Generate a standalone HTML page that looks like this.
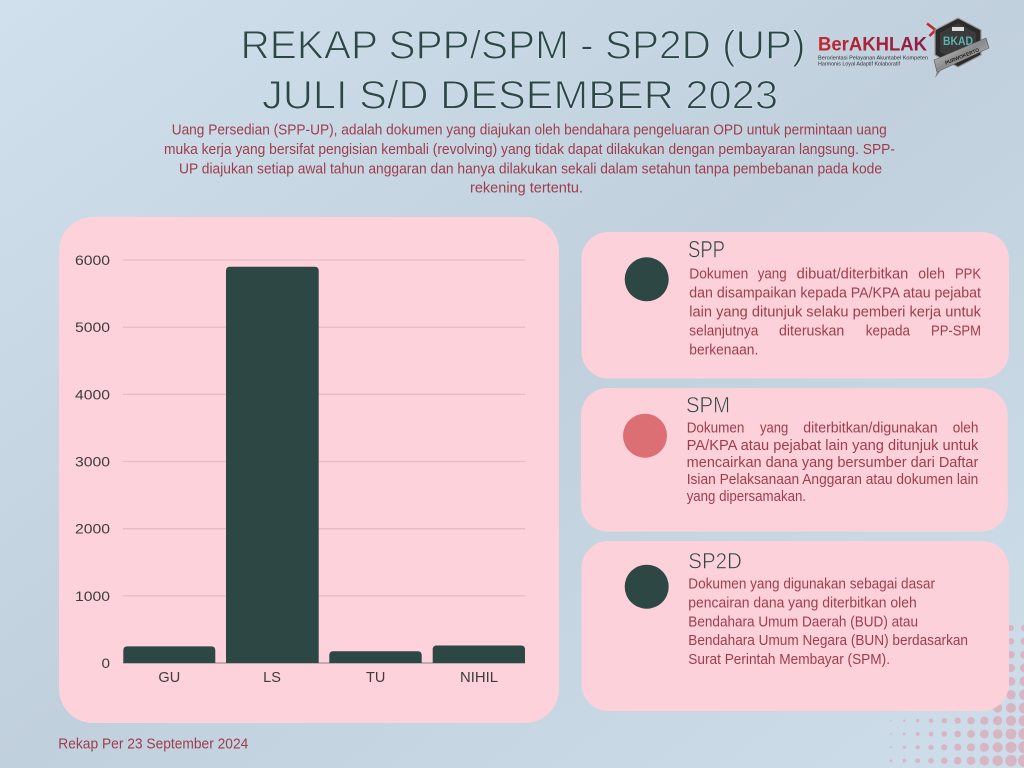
<!DOCTYPE html>
<html>
<head>
<meta charset="utf-8">
<style>
html,body{margin:0;padding:0;width:1024px;height:768px;overflow:hidden;background:#cddeea;}
svg{display:block;}
text{font-family:"Liberation Sans",sans-serif;}
</style>
</head>
<body>
<svg width="1024" height="768" viewBox="0 0 1024 768" xmlns="http://www.w3.org/2000/svg">
<defs>
<linearGradient id="bg" x1="0" y1="0" x2="1" y2="1">
<stop offset="0" stop-color="#d0e0ec"/>
<stop offset="0.5" stop-color="#c1d0dd"/>
<stop offset="1" stop-color="#cddeea"/>
</linearGradient>
<linearGradient id="red" x1="0" y1="0" x2="1" y2="0">
<stop offset="0" stop-color="#c1282f"/>
<stop offset="1" stop-color="#8c1e45"/>
</linearGradient>
<linearGradient id="silver" x1="0" y1="0" x2="1" y2="1">
<stop offset="0" stop-color="#e8e8e8"/>
<stop offset="0.5" stop-color="#8a8a8a"/>
<stop offset="1" stop-color="#d0d0d0"/>
</linearGradient>
</defs>
<rect x="0" y="0" width="1024" height="768" fill="url(#bg)"/>

<!-- dot pattern -->
<g fill="#d9b5c3">
<circle cx="891" cy="720.7" r="0.7"/><circle cx="904.3" cy="720.7" r="1.2"/><circle cx="917.7" cy="720.7" r="1.7"/><circle cx="931" cy="720.7" r="2.2"/><circle cx="944.3" cy="720.7" r="2.7"/><circle cx="957.7" cy="720.7" r="3.2"/><circle cx="971" cy="720.7" r="3.7"/><circle cx="984.3" cy="720.7" r="4.2"/><circle cx="997.7" cy="720.7" r="4.7"/><circle cx="1011" cy="720.7" r="5.2"/><circle cx="1024.3" cy="720.7" r="5.7"/>
<circle cx="891" cy="734" r="0.9"/><circle cx="904.3" cy="734" r="1.4"/><circle cx="917.7" cy="734" r="1.9"/><circle cx="931" cy="734" r="2.4"/><circle cx="944.3" cy="734" r="2.9"/><circle cx="957.7" cy="734" r="3.4"/><circle cx="971" cy="734" r="3.9"/><circle cx="984.3" cy="734" r="4.4"/><circle cx="997.7" cy="734" r="4.9"/><circle cx="1011" cy="734" r="5.4"/><circle cx="1024.3" cy="734" r="5.9"/>
<circle cx="891" cy="747.3" r="1.1"/><circle cx="904.3" cy="747.3" r="1.6"/><circle cx="917.7" cy="747.3" r="2.1"/><circle cx="931" cy="747.3" r="2.6"/><circle cx="944.3" cy="747.3" r="3.1"/><circle cx="957.7" cy="747.3" r="3.6"/><circle cx="971" cy="747.3" r="4.1"/><circle cx="984.3" cy="747.3" r="4.6"/><circle cx="997.7" cy="747.3" r="5.1"/><circle cx="1011" cy="747.3" r="5.6"/><circle cx="1024.3" cy="747.3" r="6.1"/>
<circle cx="891" cy="760.7" r="1.3"/><circle cx="904.3" cy="760.7" r="1.8"/><circle cx="917.7" cy="760.7" r="2.3"/><circle cx="931" cy="760.7" r="2.8"/><circle cx="944.3" cy="760.7" r="3.3"/><circle cx="957.7" cy="760.7" r="3.8"/><circle cx="971" cy="760.7" r="4.3"/><circle cx="984.3" cy="760.7" r="4.8"/><circle cx="997.7" cy="760.7" r="5.3"/><circle cx="1011" cy="760.7" r="5.8"/><circle cx="1024.3" cy="760.7" r="6.3"/>
<circle cx="1011" cy="628" r="3"/><circle cx="1024.3" cy="628" r="3.4"/>
<circle cx="1011" cy="641.3" r="3.3"/><circle cx="1024.3" cy="641.3" r="3.7"/>
<circle cx="1011" cy="654.7" r="3.7"/><circle cx="1024.3" cy="654.7" r="4.1"/>
<circle cx="1011" cy="668" r="4.1"/><circle cx="1024.3" cy="668" r="4.5"/>
<circle cx="1011" cy="681.3" r="4.4"/><circle cx="1024.3" cy="681.3" r="4.9"/>
<circle cx="1011" cy="694.7" r="4.7"/><circle cx="1024.3" cy="694.7" r="5.2"/>
<circle cx="1011" cy="708" r="5"/><circle cx="1024.3" cy="708" r="5.5"/>
<circle cx="997.7" cy="694.7" r="4.3"/><circle cx="997.7" cy="708" r="4.6"/>
</g>

<!-- Title -->
<g font-size="40" fill="#2c4744" stroke="#cbdce8" stroke-width="1.1">
<text x="240.5" y="58.5" textLength="565" lengthAdjust="spacingAndGlyphs">REKAP SPP/SPM - SP2D (UP)</text>
<text x="262" y="108.5" textLength="516" lengthAdjust="spacingAndGlyphs">JULI S/D DESEMBER 2023</text>
</g>

<!-- Logo BerAKHLAK -->
<text x="818" y="50.7" font-size="19" font-weight="bold" fill="url(#red)" textLength="109" lengthAdjust="spacingAndGlyphs">BerAKHLAK</text>
<polyline points="927,23.5 935.5,30 929.5,36" fill="none" stroke="#c1282f" stroke-width="2.6"/>
<text x="818" y="59.6" font-size="5" fill="#333" textLength="110" lengthAdjust="spacingAndGlyphs">Berorientasi Pelayanan Akuntabel Kompeten</text>
<text x="818" y="65.6" font-size="5" fill="#333" textLength="82" lengthAdjust="spacingAndGlyphs">Harmonis Loyal Adaptif Kolaboratif</text>

<!-- BKAD badge -->
<polygon points="958,18 981,30 981,55 958,67 935,55 935,30" fill="#2b2b2b" stroke="#9a9a9a" stroke-width="1.2"/>
<polygon points="958,23 976,33 976,52 958,61 940,52 940,33" fill="#3b3b3b"/>
<text x="958" y="45" font-size="12" font-weight="bold" fill="#5db3b0" text-anchor="middle" textLength="30" lengthAdjust="spacingAndGlyphs">BKAD</text>
<rect x="952" y="27" width="12" height="4" fill="#ddd"/>
<polygon points="934,60 986,38 989,48 937,72" fill="url(#silver)" stroke="#555" stroke-width="0.6"/>
<polygon points="937,72 935,78 941,70" fill="#777"/>
<text x="962" y="58" font-size="5" font-weight="bold" fill="#222" text-anchor="middle" transform="rotate(-22 962 56)">PURWOKERTO</text>

<!-- intro paragraph -->
<g font-size="15" fill="#9e3d4b">
<text x="171.7" y="134.7" textLength="715" lengthAdjust="spacingAndGlyphs">Uang Persedian (SPP-UP), adalah dokumen yang diajukan oleh bendahara pengeluaran OPD untuk permintaan uang</text>
<text x="164" y="154" textLength="731" lengthAdjust="spacingAndGlyphs">muka kerja yang bersifat pengisian kembali (revolving) yang tidak dapat dilakukan dengan pembayaran langsung. SPP-</text>
<text x="179" y="173.3" textLength="703" lengthAdjust="spacingAndGlyphs">UP diajukan setiap awal tahun anggaran dan hanya dilakukan sekali dalam setahun tanpa pembebanan pada kode</text>
<text x="470" y="192.5" textLength="113" lengthAdjust="spacingAndGlyphs">rekening tertentu.</text>
</g>

<!-- Chart card -->
<rect x="59" y="217" width="500" height="506" rx="34" fill="#fdd2da"/>
<g stroke="#e5bcc6" stroke-width="1.3">
<line x1="123" y1="260" x2="525" y2="260"/>
<line x1="123" y1="327.2" x2="525" y2="327.2"/>
<line x1="123" y1="394.3" x2="525" y2="394.3"/>
<line x1="123" y1="461.5" x2="525" y2="461.5"/>
<line x1="123" y1="528.7" x2="525" y2="528.7"/>
<line x1="123" y1="595.8" x2="525" y2="595.8"/>
</g>
<line x1="123" y1="663" x2="525" y2="663" stroke="#a9a0a5" stroke-width="1.4"/>
<g fill="#2c4744">
<path d="M123.3,663 V650.4 Q123.3,646.4 127.3,646.4 H211.3 Q215.3,646.4 215.3,650.4 V663 Z"/>
<path d="M226,663 V270.7 Q226,266.7 230,266.7 H314.7 Q318.7,266.7 318.7,270.7 V663 Z"/>
<path d="M329.3,663 V655.3 Q329.3,651.3 333.3,651.3 H417.7 Q421.7,651.3 421.7,655.3 V663 Z"/>
<path d="M432.7,663 V649.5 Q432.7,645.5 436.7,645.5 H521 Q525,645.5 525,649.5 V663 Z"/>
</g>
<g font-size="14" fill="#3d3d3d" text-anchor="end">
<text x="110" y="265" textLength="35" lengthAdjust="spacingAndGlyphs">6000</text>
<text x="110" y="332.2" textLength="35" lengthAdjust="spacingAndGlyphs">5000</text>
<text x="110" y="399.3" textLength="35" lengthAdjust="spacingAndGlyphs">4000</text>
<text x="110" y="466.5" textLength="35" lengthAdjust="spacingAndGlyphs">3000</text>
<text x="110" y="533.7" textLength="35" lengthAdjust="spacingAndGlyphs">2000</text>
<text x="110" y="600.8" textLength="35" lengthAdjust="spacingAndGlyphs">1000</text>
<text x="110" y="668" textLength="8.5" lengthAdjust="spacingAndGlyphs">0</text>
</g>
<g font-size="14.5" fill="#3d3d3d" text-anchor="middle">
<text x="169.3" y="682">GU</text>
<text x="272" y="682">LS</text>
<text x="375.7" y="682">TU</text>
<text x="479" y="682" textLength="38" lengthAdjust="spacingAndGlyphs">NIHIL</text>
</g>

<!-- footer -->
<text x="58.3" y="748.3" font-size="14.5" fill="#9e3d4b" textLength="190" lengthAdjust="spacingAndGlyphs">Rekap Per 23 September 2024</text>

<!-- Card SPP -->
<rect x="581.5" y="232" width="427.5" height="146.5" rx="27" fill="#fdd1da"/>
<circle cx="646.7" cy="279.3" r="22" fill="#2c4744"/>
<text x="688" y="257.7" font-size="24" fill="#2c4744" stroke="#fdd1da" stroke-width="0.6" textLength="37" lengthAdjust="spacingAndGlyphs">SPP</text>
<g font-size="14.3" fill="#9e3d4b">
<text x="689.3" y="278.5" textLength="59" lengthAdjust="spacingAndGlyphs">Dokumen</text>
<text x="757.7" y="278.5" textLength="29" lengthAdjust="spacingAndGlyphs">yang</text>
<text x="796.7" y="278.5" textLength="111.6" lengthAdjust="spacingAndGlyphs">dibuat/diterbitkan</text>
<text x="918.3" y="278.5" textLength="26.7" lengthAdjust="spacingAndGlyphs">oleh</text>
<text x="955" y="278.5" textLength="26" lengthAdjust="spacingAndGlyphs">PPK</text>
<text x="689.3" y="297.4" textLength="291.7" lengthAdjust="spacingAndGlyphs">dan disampaikan kepada PA/KPA atau pejabat</text>
<text x="689.3" y="316.3" textLength="291.7" lengthAdjust="spacingAndGlyphs">lain yang ditunjuk selaku pemberi kerja untuk</text>
<text x="689.3" y="335.5" textLength="69" lengthAdjust="spacingAndGlyphs">selanjutnya</text>
<text x="779" y="335.5" textLength="65.3" lengthAdjust="spacingAndGlyphs">diteruskan</text>
<text x="865.7" y="335.5" textLength="44.3" lengthAdjust="spacingAndGlyphs">kepada</text>
<text x="931" y="335.5" textLength="50" lengthAdjust="spacingAndGlyphs">PP-SPM</text>
<text x="689.3" y="354.6" textLength="69" lengthAdjust="spacingAndGlyphs">berkenaan.</text>
</g>

<!-- Card SPM -->
<rect x="581" y="388" width="426.7" height="143.7" rx="27" fill="#fdd1da"/>
<circle cx="645" cy="435.7" r="22" fill="#dc6f73"/>
<text x="686" y="412.7" font-size="22.5" fill="#2c4744" stroke="#fdd1da" stroke-width="0.6" textLength="44" lengthAdjust="spacingAndGlyphs">SPM</text>
<g font-size="14.3" fill="#9e3d4b">
<text x="686.7" y="432.6" textLength="57.7" lengthAdjust="spacingAndGlyphs">Dokumen</text>
<text x="760" y="432.6" textLength="28.3" lengthAdjust="spacingAndGlyphs">yang</text>
<text x="803.3" y="432.6" textLength="134.3" lengthAdjust="spacingAndGlyphs">diterbitkan/digunakan</text>
<text x="952.7" y="432.6" textLength="25.7" lengthAdjust="spacingAndGlyphs">oleh</text>
<text x="686.7" y="449.8" textLength="291.6" lengthAdjust="spacingAndGlyphs">PA/KPA atau pejabat lain yang ditunjuk untuk</text>
<text x="686.7" y="466.9" textLength="291.6" lengthAdjust="spacingAndGlyphs">mencairkan dana yang bersumber dari Daftar</text>
<text x="686.7" y="484" textLength="291.6" lengthAdjust="spacingAndGlyphs">Isian Pelaksanaan Anggaran atau dokumen lain</text>
<text x="686.7" y="501.2" textLength="119.3" lengthAdjust="spacingAndGlyphs">yang dipersamakan.</text>
</g>

<!-- Card SP2D -->
<rect x="581.5" y="541" width="427.5" height="170" rx="27" fill="#fdd1da"/>
<circle cx="646.7" cy="586.7" r="22" fill="#2c4744"/>
<text x="688.3" y="568.3" font-size="22.5" fill="#2c4744" stroke="#fdd1da" stroke-width="0.6" textLength="53.5" lengthAdjust="spacingAndGlyphs">SP2D</text>
<g font-size="14.3" fill="#9e3d4b">
<text x="688.3" y="588.5" textLength="246.7" lengthAdjust="spacingAndGlyphs">Dokumen yang digunakan sebagai dasar</text>
<text x="688.3" y="607.4" textLength="228.4" lengthAdjust="spacingAndGlyphs">pencairan dana yang diterbitkan oleh</text>
<text x="688.3" y="626.3" textLength="229.7" lengthAdjust="spacingAndGlyphs">Bendahara Umum Daerah (BUD) atau</text>
<text x="688.3" y="645.2" textLength="279.7" lengthAdjust="spacingAndGlyphs">Bendahara Umum Negara (BUN) berdasarkan</text>
<text x="688.3" y="664.1" textLength="201.7" lengthAdjust="spacingAndGlyphs">Surat Perintah Membayar (SPM).</text>
</g>
</svg>
</body>
</html>
